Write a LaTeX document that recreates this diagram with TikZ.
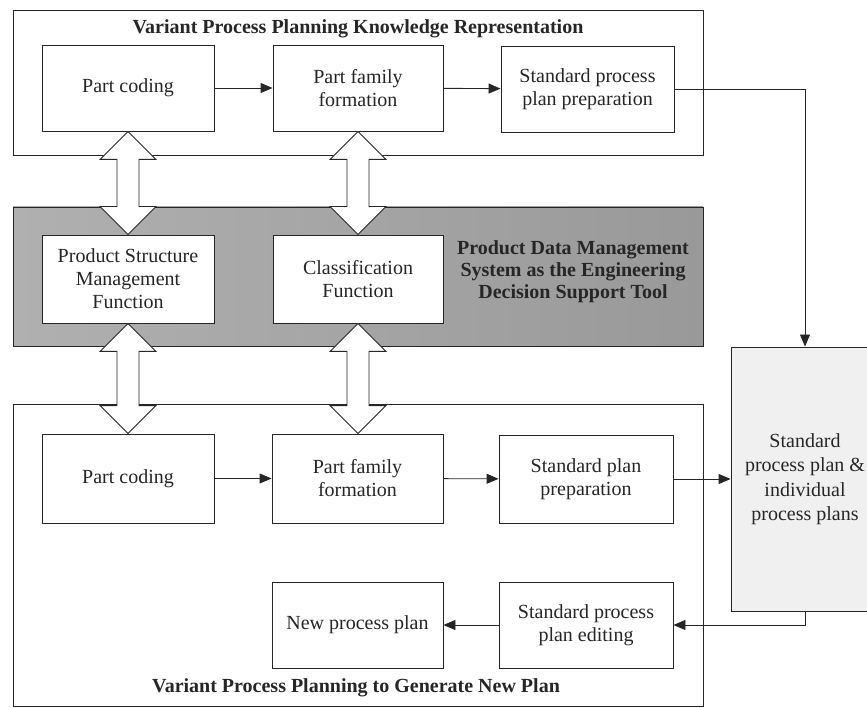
\documentclass[tikz,border=0pt]{standalone}
\usepackage{fontspec}
\setmainfont{Liberation Serif}
\usetikzlibrary{arrows.meta,calc}

\definecolor{ink}{gray}{0.15}
\definecolor{bandL}{gray}{0.69}
\definecolor{bandR}{gray}{0.60}

\tikzset{
  frame/.style={draw=ink, line width=0.9pt},
  box/.style={draw=ink, line width=0.9pt, fill=white, inner sep=2pt,
    align=center, text=ink, font=\fontsize{20}{23}\selectfont},
  flow/.style={draw=ink, line width=0.9pt, -{Triangle[length=12pt,width=10pt]}},
  blk/.style={draw=ink, line width=0.9pt, fill=white, line join=miter},
  heading/.style={text=ink, font=\fontsize{20}{23}\selectfont\bfseries, align=center}
}

% hollow two-headed block arrow between two vertically stacked boxes
\newcommand{\twoway}[2]{%
  \draw[blk] let \p1=(#1.south), \p2=(#2.north) in
    (\x1,\y1) -- ++(28pt,-28pt) -- ++(-17pt,0pt) -- (\x1+11pt,\y2+28pt)
    -- ++(17pt,0pt) -- (\x1,\y2) -- ++(-28pt,28pt) -- ++(17pt,0pt)
    -- (\x1-11pt,\y1-28pt) -- ++(-17pt,0pt) -- cycle;}

\begin{document}
\begin{tikzpicture}[x=1pt,y=-1pt]
  \useasboundingbox (0,0) rectangle (867,708);

  % upper and lower planning frames
  \draw[frame] (13,10) rectangle (703,155);
  \draw[frame] (13,404) rectangle (703,706);

  % PDM band
  \shade[left color=bandL, right color=bandR] (13,207) rectangle (703,346);
  \draw[frame] (13,207) rectangle (703,346);

  \node[heading] (ttop) at (358,29) {Variant Process Planning Knowledge Representation};
  \node[heading] (tbot) at (356,688) {Variant Process Planning to Generate New Plan};
  \node[heading, font=\fontsize{20}{22}\selectfont\bfseries] (tpdm) at (573,272)
    {Product Data Management\\System as the Engineering\\Decision Support Tool};

  % knowledge representation row
  \node[box, minimum width=172pt, minimum height=86pt] (codeA) at (128,88) {Part coding};
  \node[box, minimum width=170pt, minimum height=86pt] (famA) at (358,88) {Part family\\formation};
  \node[box, minimum width=173pt, minimum height=86pt] (stdA) at (587.5,89) {Standard process\\plan preparation};

  % PDM functions
  \node[box, minimum width=172pt, minimum height=88pt] (psm) at (128,279) {Product Structure\\Management\\Function};
  \node[box, minimum width=170pt, minimum height=88pt] (cls) at (358,279) {Classification\\Function};

  % new plan generation rows
  \node[box, minimum width=172pt, minimum height=89pt] (codeB) at (128,478.5) {Part coding};
  \node[box, minimum width=171pt, minimum height=89pt] (famB) at (357.5,478.5) {Part family\\formation};
  \node[box, minimum width=174pt, minimum height=88pt] (stdB) at (586,479) {Standard plan\\preparation};
  \node[box, minimum width=171pt, minimum height=86pt] (newp) at (357.5,625) {New process plan};
  \node[box, minimum width=174pt, minimum height=86pt] (edit) at (586,625) {Standard process\\plan editing};

  % plan store
  \node[box, fill=black!6, minimum width=148pt, minimum height=264pt,
        font=\fontsize{20}{24.5}\selectfont] (store) at (805,479)
    {Standard\\process plan \&\\individual\\process plans};

  % block arrows linking the three layers
  \twoway{codeA}{psm}
  \twoway{famA}{cls}
  \twoway{psm}{codeB}
  \twoway{cls}{famB}

  % flow connectors
  \draw[flow] (codeA) -- (famA);
  \draw[flow] (famA) -- (stdA);
  \draw[flow] (stdA.east) -| (store.north);
  \draw[flow] (codeB) -- (famB);
  \draw[flow] (famB) -- (stdB);
  \draw[flow] (stdB.east) -- (store.west);
  \draw[flow] (store.south) |- (edit.east);
  \draw[flow] (edit) -- (newp);
\end{tikzpicture}
\end{document}
